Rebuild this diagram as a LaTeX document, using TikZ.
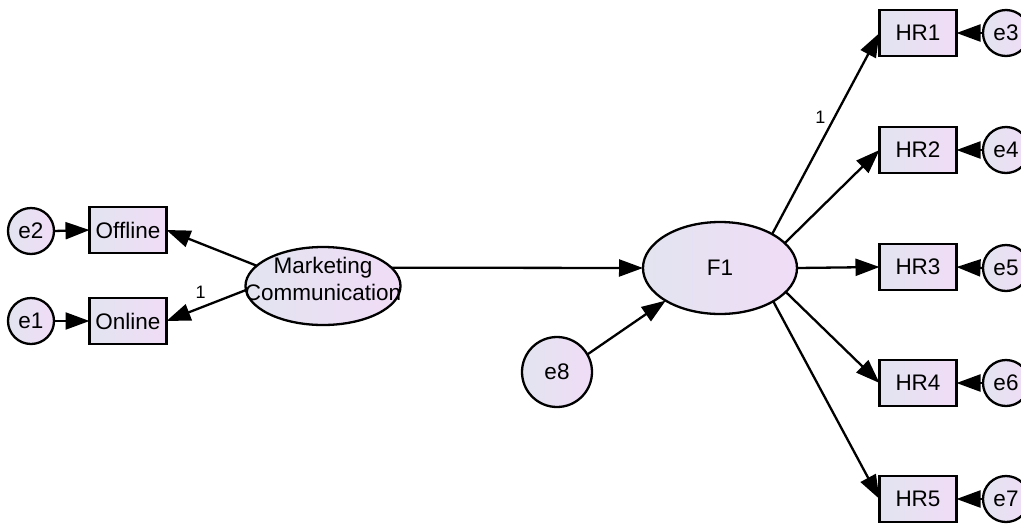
\documentclass[tikz,border=0pt]{standalone}
\usepackage{fontspec}
\setmainfont{Liberation Sans}
\usetikzlibrary{shapes.geometric,arrows.meta}
\definecolor{shadeL}{RGB}{226,228,240}
\definecolor{shadeR}{RGB}{240,220,246}
\begin{document}
\begin{tikzpicture}[x=1pt,y=-1pt,
  every node/.style={font=\fontsize{22.5}{27}\selectfont, inner sep=0pt, outer sep=0pt},
  obs/.style={draw, line width=2.3pt, left color=shadeL, right color=shadeR,
              minimum width=77pt, minimum height=46pt},
  err/.style={circle, draw, line width=2.3pt, left color=shadeL, right color=shadeR,
              minimum size=46pt},
  lat/.style={ellipse, draw, line width=2.3pt, left color=shadeL, right color=shadeR},
  reg/.style={line width=2.3pt, -{Triangle[length=24pt,width=17pt]}},
  wt/.style={font=\fontsize{18}{21}\selectfont}
]
\clip (0,0) rectangle (1021,523);
\fill[white] (0,0) rectangle (1021,523);

% measurement model: Marketing Communication
\node[err] (e2) at (31,231) {e2};
\node[err] (e1) at (31,321) {e1};
\node[obs] (off) at (128,230) {Offline};
\node[obs] (on)  at (128,321) {Online};
\node[lat, minimum width=155pt, minimum height=78pt,
      label={[align=center, yshift=7pt]center:Marketing\\Communication}] (mc) at (323,286) {};

% structural part
\node[lat, minimum width=154pt, minimum height=92pt] (f1) at (720,268) {F1};
\node[err, minimum size=70pt] (e8) at (557,372) {e8};

% indicators of F1
\node[obs] (hr1) at (918,33)  {HR1};
\node[obs] (hr2) at (918,150) {HR2};
\node[obs] (hr3) at (918,267) {HR3};
\node[obs] (hr4) at (918,383) {HR4};
\node[obs] (hr5) at (918,499) {HR5};
\node[err] (e3) at (1006,33)  {e3};
\node[err] (e4) at (1006,150) {e4};
\node[err] (e5) at (1006,268) {e5};
\node[err] (e6) at (1006,383) {e6};
\node[err] (e7) at (1006,499) {e7};

% paths
\draw[reg] (e2.east) -- (off.west);
\draw[reg] (e1.east) -- (on.west);
\draw[reg] (mc.163) -- (off.east);
\draw[reg] (mc.183) -- (on.east) node[wt, pos=0.57, above=9pt] {1};
\draw[reg] (mc.15) -- (f1.west);
\draw[reg] (e8.30) -- (f1.211);

\draw[reg] (f1.33) -- (hr1.west) node[wt, pos=0.58, left=9pt] {1};
\draw[reg] (f1.21) -- (hr2.west);
\draw[reg] (f1.east) -- (hr3.west);
\draw[reg] (f1.-20) -- (hr4.west);
\draw[reg] (f1.-32) -- (hr5.west);

\draw[reg] (e3.west) -- (hr1.east);
\draw[reg] (e4.west) -- (hr2.east);
\draw[reg] (e5.west) -- (hr3.east);
\draw[reg] (e6.west) -- (hr4.east);
\draw[reg] (e7.west) -- (hr5.east);
\end{tikzpicture}
\end{document}
